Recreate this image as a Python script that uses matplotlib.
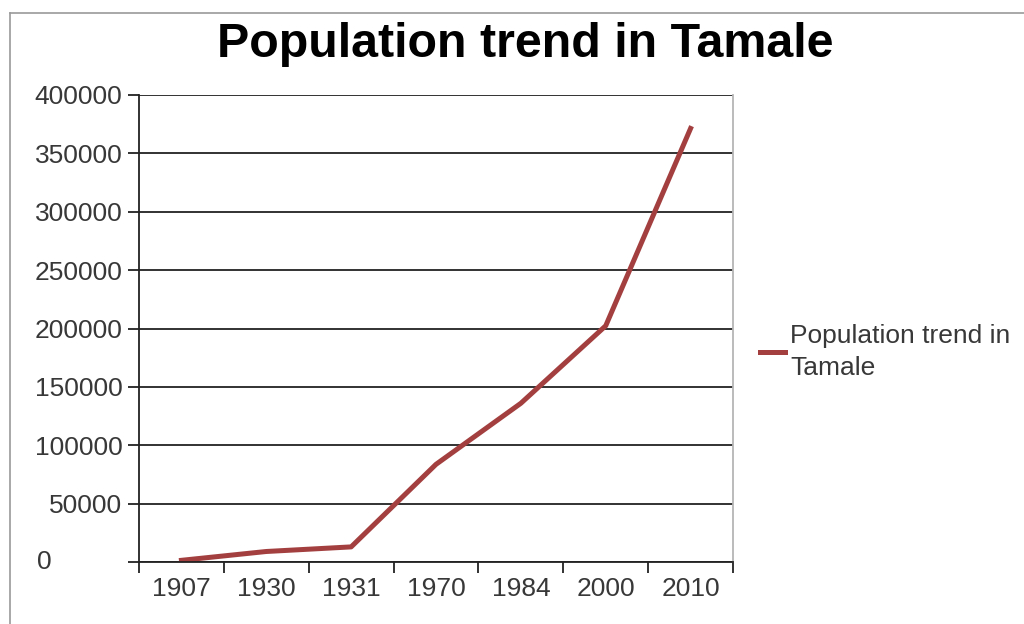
#!/usr/bin/env python3
"""Population trend in Tamale, line chart."""

import matplotlib
matplotlib.use("Agg")
import matplotlib.pyplot as plt
from matplotlib.lines import Line2D
import numpy as np

years = ["1907", "1930", "1931", "1970", "1984", "2000", "2010"]
population = [1435, 9000, 12941, 83653, 135952, 202317, 371351]
y_ticks = [0, 50000, 100000, 150000, 200000, 250000, 300000, 350000, 400000]
series_name = "Population trend in\nTamale"
title = "Population trend in Tamale"

plt.rcParams['font.family'] = ['Liberation Sans', 'DejaVu Sans']

fig = plt.figure(figsize=(10.24, 6.24), dpi=100)
ax = fig.add_axes([139 / 1024, 1 - 562 / 624, (733 - 139) / 1024, (562 - 95) / 624])

x = np.arange(len(years))
ax.plot(x, population, color='#a33f3f', lw=3.6, label=series_name)

ax.set_xlim(-0.5, len(years) - 0.5)
ax.set_ylim(0, 400000)
ax.set_yticks(y_ticks)
# the "0" label sits far to the left in the source, drawn separately below
ax.set_yticklabels([str(v) if v else "" for v in y_ticks])
ax.yaxis.grid(True, color='#222222', lw=1.3)
ax.set_axisbelow(True)

# category labels centred, tick marks on the boundaries
ax.set_xticks(x)
ax.set_xticklabels(years)
ax.set_xticks(np.arange(len(years) + 1) - 0.5, minor=True)
ax.tick_params(axis='x', which='major', length=0, pad=11)
ax.tick_params(axis='x', which='minor', length=8, width=1.3, direction='out', color='#222222')
ax.tick_params(axis='y', length=8, width=1.3, direction='out', color='#222222', pad=4)
ax.tick_params(labelsize=19, labelcolor='#383838')

ax.spines['top'].set_visible(False)
ax.spines['right'].set_color('#b5b5b5')
ax.spines['right'].set_linewidth(1.3)
ax.spines['left'].set_color('#222222')
ax.spines['left'].set_linewidth(1.3)
ax.spines['bottom'].set_color('#222222')
ax.spines['bottom'].set_linewidth(1.3)

fig.text(37 / 1024, 1 - 562 / 624, str(y_ticks[0]), ha='left', va='center',
         fontsize=19, color='#383838')

leg = ax.legend(loc='center left', bbox_to_anchor=(760 / 1024, 1 - 352 / 624),
                bbox_transform=fig.transFigure, frameon=False, fontsize=19,
                handlelength=0.95, handletextpad=0.2, borderpad=0, borderaxespad=0,
                labelcolor='#383838')
for t in leg.get_texts():
    t.set_linespacing(1.4)

fig.text(525 / 1024, 1 - 57 / 624, title, ha='center', va='baseline',
         fontsize=34.8, fontweight='bold', color='black')

# outer frame (top and left edges only, as in the source image)
fig.add_artist(Line2D([10 / 1024, 1], [1 - 13 / 624, 1 - 13 / 624],
                      transform=fig.transFigure, color='#9a9a9a', lw=1.2))
fig.add_artist(Line2D([10 / 1024, 10 / 1024], [0, 1 - 13 / 624],
                      transform=fig.transFigure, color='#9a9a9a', lw=1.2))

fig.savefig("out.png", dpi=100)
